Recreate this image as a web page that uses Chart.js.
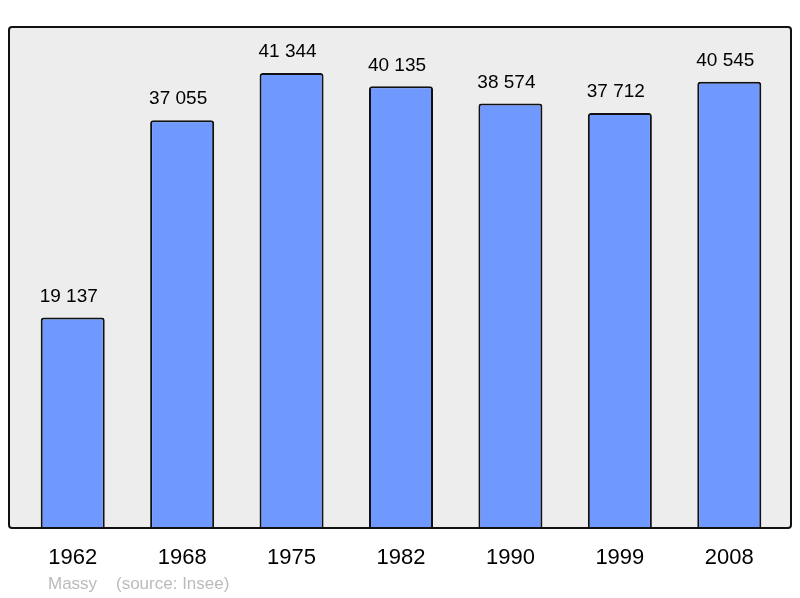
<!DOCTYPE html>
<html>
<head>
<meta charset="utf-8">
<script src="https://cdn.jsdelivr.net/npm/chart.js@4/dist/chart.umd.min.js"></script>
<style>
  body { margin: 0; background: #fff; }
</style>
</head>
<body>
<canvas id="chart" width="800" height="598"></canvas>
<script>
// population data for Massy
var years = ["1962", "1968", "1975", "1982", "1990", "1999", "2008"];
var population = [19137, 37055, 41344, 40135, 38574, 37712, 40545];
var caption = ["Massy", "(source: Insee)"];

function fmt(n) {
  return String(n).replace(/\B(?=(\d{3})+(?!\d))/g, " ");
}

// grey panel with a rounded black frame
var framePlugin = {
  id: "frame",
  beforeDatasetsDraw: function(c) {
    var a = c.chartArea, ctx = c.ctx;
    ctx.save();
    ctx.fillStyle = "#ededed";
    ctx.beginPath();
    ctx.roundRect(a.left - 9, a.top, a.width + 16, a.height, 3);
    ctx.fill();
    ctx.restore();
  },
  afterDatasetsDraw: function(c) {
    var a = c.chartArea, ctx = c.ctx;
    ctx.save();
    ctx.strokeStyle = "#111";
    ctx.lineWidth = 2;
    ctx.beginPath();
    ctx.roundRect(a.left - 9, a.top, a.width + 16, a.height, 3);
    ctx.stroke();

    // value labels, a bit left of the bar centre like the original
    ctx.fillStyle = "#000";
    ctx.font = "19px 'Liberation Sans', Arial, sans-serif";
    ctx.textAlign = "center";
    ctx.textBaseline = "middle";
    c.getDatasetMeta(0).data.forEach(function(bar, i) {
      ctx.fillText(fmt(population[i]), bar.x - 4, bar.y - 21);
    });

    // caption
    ctx.fillStyle = "#bbbbbb";
    ctx.font = "17px 'Liberation Sans', Arial, sans-serif";
    ctx.textAlign = "left";
    ctx.fillText(caption[0], 48, 584);
    ctx.fillText(caption[1], 116, 584);
    ctx.restore();
  }
};

var ctx = document.getElementById("chart").getContext("2d");
var chart = new Chart(ctx, {
  type: "bar",
  data: {
    labels: years,
    datasets: [{
      data: population,
      backgroundColor: "#7099ff",
      borderColor: "#111",
      borderWidth: 2,
      borderRadius: { topLeft: 3, topRight: 3 },
      borderSkipped: "bottom",
      barPercentage: 0.585,
      categoryPercentage: 1
    }]
  },
  options: {
    responsive: false,
    animation: false,
    layout: { padding: { left: 18, right: 16, top: 27, bottom: 0 } },
    plugins: {
      legend: { display: false },
      tooltip: { enabled: false }
    },
    scales: {
      x: {
        grid: { display: false },
        border: { display: false },
        ticks: {
          color: "#000",
          padding: 9,
          font: { size: 22, family: "'Liberation Sans', Arial, sans-serif" }
        },
        afterFit: function(axis) { axis.height = 70; }
      },
      y: {
        display: false,
        min: 0,
        max: 45520
      }
    }
  },
  plugins: [framePlugin]
});
</script>
</body>
</html>
